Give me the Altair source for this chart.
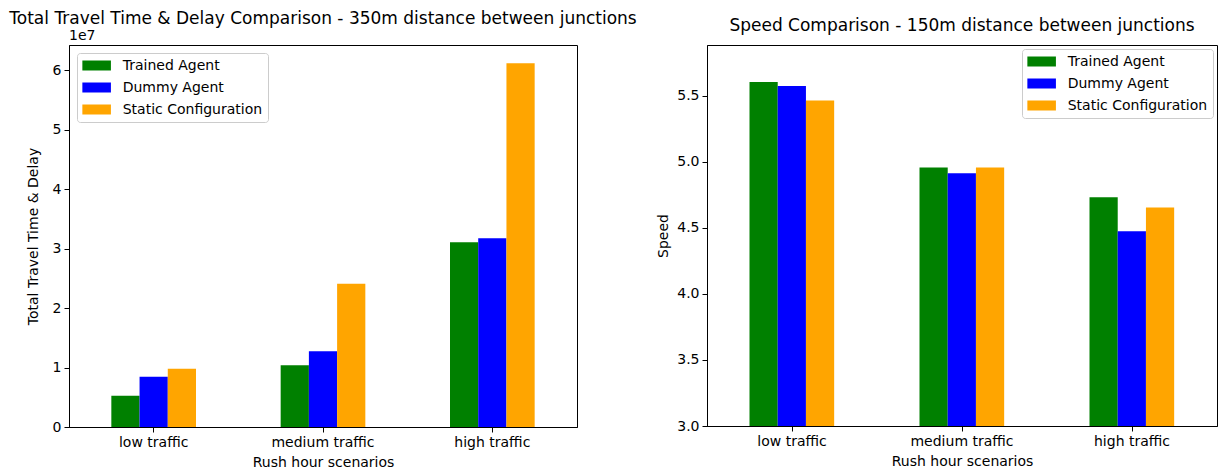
import altair as alt
import pandas as pd

scenarios = ["low traffic", "medium traffic", "high traffic"]
agents = ["Trained Agent", "Dummy Agent", "Static Configuration"]
colors = ["#008000", "#0000ff", "#ffa500"]

travel_trained = [5.27e6, 1.037e7, 3.107e7]
travel_dummy = [8.45e6, 1.275e7, 3.175e7]
travel_static = [9.81e6, 2.41e7, 6.12e7]

speed_trained = [5.605, 4.958, 4.733]
speed_dummy = [5.575, 4.913, 4.475]
speed_static = [5.465, 4.958, 4.655]

travel_ticks = [0, 1e7, 2e7, 3e7, 4e7, 5e7, 6e7]
speed_ticks = [3.0, 3.5, 4.0, 4.5, 5.0, 5.5]


def long_df(series):
    rows = []
    for agent, vals in zip(agents, series):
        for sc, v in zip(scenarios, vals):
            rows.append({"scenario": sc, "agent": agent, "value": v})
    return pd.DataFrame(rows)


travel_df = long_df([travel_trained, travel_dummy, travel_static])
speed_df = long_df([speed_trained, speed_dummy, speed_static])

FONT = "DejaVu Sans"
LEGEND_PATH = "M-1,-0.7H3V0.7H-1Z"


def panel(df, title, ytitle, domain, ticks, label_expr, width, height,
          legend_orient, legend_offset, title_dy, ytitle_pad):
    bars = alt.Chart(df).mark_bar(clip=True).encode(
        x=alt.X(
            "scenario:N",
            sort=scenarios,
            scale=alt.Scale(paddingInner=0.5, paddingOuter=0.25),
            axis=alt.Axis(title="Rush hour scenarios", labelAngle=0),
        ),
        xOffset=alt.XOffset("agent:N", sort=agents),
        y=alt.Y(
            "value:Q",
            scale=alt.Scale(domain=domain, zero=False, nice=False),
            axis=alt.Axis(title=ytitle, values=ticks, labelExpr=label_expr,
                          titlePadding=ytitle_pad),
        ),
        y2=alt.datum(domain[0]),
        color=alt.Color(
            "agent:N",
            sort=agents,
            scale=alt.Scale(domain=agents, range=colors),
            legend=alt.Legend(
                title=None,
                orient=legend_orient,
                offset=legend_offset,
                symbolType=LEGEND_PATH,
                symbolSize=204,
                symbolStrokeWidth=0,
                symbolOpacity=1,
                labelFontSize=14,
                labelFont=FONT,
                labelColor="#000000",
                labelOffset=25.7,
                rowPadding=7,
                padding=5,
                strokeColor="#cccccc",
                fillColor="#ffffff",
                cornerRadius=3,
            ),
        ),
    )
    return bars.properties(
        width=width,
        height=height,
        title=alt.TitleParams(
            title,
            fontSize=17,
            fontWeight="normal",
            font=FONT,
            color="#000000",
            frame="group",
            anchor="middle",
            dy=title_dy,
        ),
    )


left_bars = panel(
    travel_df,
    "Total Travel Time & Delay Comparison - 350m distance between junctions",
    "Total Travel Time & Delay",
    [0, 6.426e7],
    travel_ticks,
    "format(datum.value / 1e7, 'd')",
    508,
    382,
    "top-left",
    8,
    3,
    11.5,
)
offset_text = alt.Chart(pd.DataFrame({"t": ["1e7"]})).mark_text(
    align="left", baseline="bottom", fontSize=14, font=FONT, color="#000000"
).encode(text="t:N", x=alt.value(0), y=alt.value(-2))
left = alt.layer(left_bars, offset_text)

right = panel(
    speed_df,
    "Speed Comparison - 150m distance between junctions",
    "Speed",
    [3.0, 5.885],
    speed_ticks,
    "format(datum.value, '.1f')",
    510,
    381,
    "top-right",
    4,
    -6,
    6,
)

chart = (
    alt.hconcat(left, right, spacing=18)
    .resolve_scale(color="independent", y="independent", x="independent")
    .properties(padding={"left": 8, "top": 9, "right": 0, "bottom": 0}, background="white")
    .configure_view(stroke="#000000", strokeWidth=1)
    .configure_axis(
        grid=False,
        domainColor="#000000",
        domainWidth=1,
        tickColor="#000000",
        tickSize=5,
        tickWidth=1,
        labelPadding=3,
        labelFont=FONT,
        labelFontSize=14,
        labelColor="#000000",
        titleFont=FONT,
        titleFontSize=14,
        titleFontWeight="normal",
        titleColor="#000000",
        titlePadding=6,
    )
)

chart.save("out.html", embed_options={"renderer": "svg", "actions": False})
